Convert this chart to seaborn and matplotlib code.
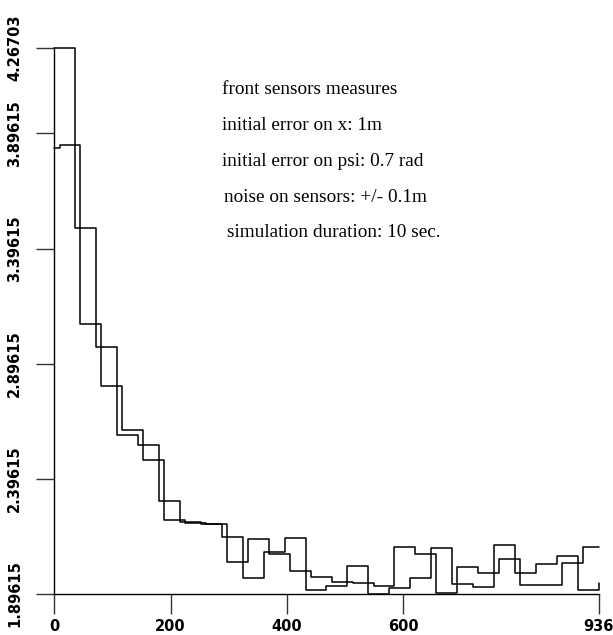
import matplotlib
matplotlib.use("Agg")
import matplotlib.pyplot as plt
import seaborn as sns
import pandas as pd

# ---- data ----
t_front = [0, 36, 72, 108, 144, 180, 216, 252, 288, 324, 360, 396, 432, 468,
           504, 540, 576, 612, 648, 684, 720, 756, 792, 828, 864, 900, 936]
err_front = [4.26703, 3.487, 2.968, 2.585, 2.544, 2.298, 2.207, 2.201, 2.145,
             1.965, 2.078, 2.140, 1.915, 1.932, 2.017, 1.89615, 1.921, 1.965,
             2.098, 1.941, 1.928, 2.107, 1.989, 2.028, 2.060, 1.912, 1.945]

t_shift = [0, 9, 45, 81, 117, 153, 189, 225, 261, 297, 333, 369, 405, 441,
           477, 513, 549, 585, 621, 657, 693, 729, 765, 801, 837, 873, 909, 936]
err_shift = [3.831, 3.848, 3.068, 2.798, 2.609, 2.479, 2.217, 2.204, 2.201,
             2.037, 2.133, 2.070, 1.996, 1.969, 1.950, 1.945, 1.931, 2.102,
             2.072, 1.899, 2.014, 1.988, 2.050, 1.935, 1.935, 2.031, 2.102, 2.102]

x_ticks = [0, 200, 400, 600, 936]
x_ticklabels = ["0", "200", "400", "600", "936"]
y_ticks = [1.89615, 2.39615, 2.89615, 3.39615, 3.89615, 4.26703]
y_ticklabels = ["1.89615", "2.39615", "2.89615", "3.39615", "3.89615", "4.26703"]

notes = ["front sensors measures",
         "initial error on x: 1m",
         "initial error on psi: 0.7 rad",
         "noise on sensors: +/- 0.1m",
         "simulation duration: 10 sec."]

# ---- figure ----
sns.set_style("white")
plt.rcParams["font.family"] = ["DejaVu Sans"]

W, H = 613, 635
fig = plt.figure(figsize=(W / 100, H / 100), dpi=100)
ax = fig.add_axes([54.3 / W, (H - 594) / H, (598.6 - 54.3) / W, (594 - 48) / H])

df1 = pd.DataFrame({"t": t_front, "e": err_front})
df2 = pd.DataFrame({"t": t_shift, "e": err_shift})
sns.lineplot(data=df1, x="t", y="e", ax=ax, color="black", linewidth=1.1,
             drawstyle="steps-post", clip_on=False, sort=False, estimator=None)
sns.lineplot(data=df2, x="t", y="e", ax=ax, color="black", linewidth=1.1,
             drawstyle="steps-post", clip_on=False, sort=False, estimator=None)

ax.set_xlim(0, 936)
ax.set_ylim(1.89615, 4.26703)
ax.set_xlabel("")
ax.set_ylabel("")

for s in ["top", "right"]:
    ax.spines[s].set_visible(False)
for s in ["left", "bottom"]:
    ax.spines[s].set_color("black")
    ax.spines[s].set_linewidth(1.0)

ax.set_xticks(x_ticks)
ax.set_xticklabels(x_ticklabels)
ax.set_yticks(y_ticks)
ax.set_yticklabels(y_ticklabels, rotation=90, va="center")

ax.tick_params(axis="x", bottom=True, direction="out", length=14.5, width=1.0,
               color="#333333", pad=3.5, labelsize=10.5)
ax.tick_params(axis="y", left=True, direction="out", length=13, width=1.0,
               color="#333333", pad=10, labelsize=10.5)
for lab in ax.get_xticklabels() + ax.get_yticklabels():
    lab.set_fontweight("bold")
    lab.set_color("black")

# annotations
note_pos = [(221.7, 93.5), (221.7, 130.5), (221.7, 165.5), (224.0, 201.5), (226.7, 237.0)]
for txt, (px, py) in zip(notes, note_pos):
    fig.text(px / W, 1 - py / H, txt, family=["Liberation Serif"], fontsize=13.9,
             ha="left", va="baseline", color="black")

fig.savefig("out.png", dpi=100)
